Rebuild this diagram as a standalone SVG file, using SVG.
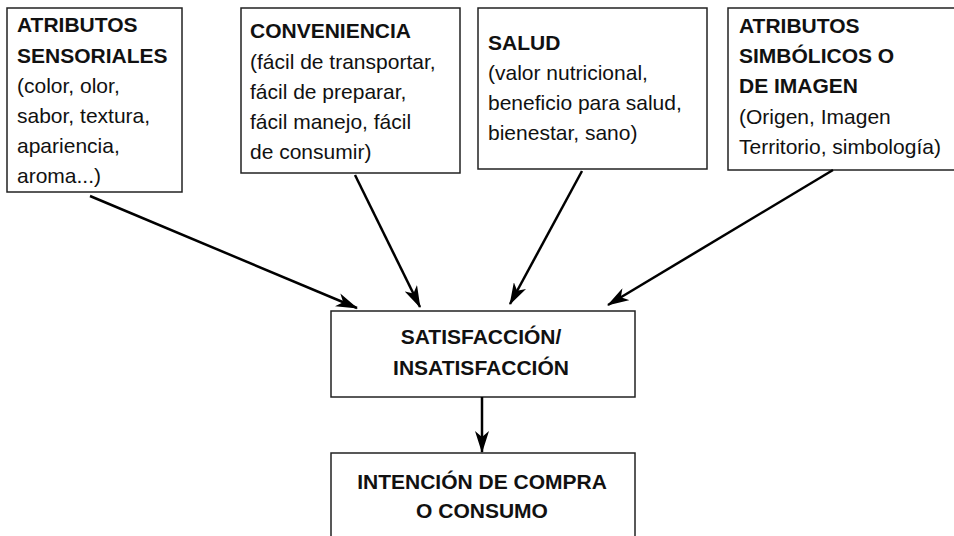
<svg xmlns="http://www.w3.org/2000/svg" width="954" height="536" viewBox="0 0 954 536">
<defs>
<marker id="ah" viewBox="0 0 22 14" refX="21" refY="7" markerWidth="22" markerHeight="14" markerUnits="userSpaceOnUse" orient="auto">
<path d="M0,0 L22,7 L0,14 L6,7 Z" fill="#000"/>
</marker>
</defs>
<style>
.box{fill:#fff;stroke:#222;stroke-width:1.5}
text{font-family:"Liberation Sans",Arial,sans-serif;font-size:21px;fill:#111}
.b{font-weight:bold}
.c{text-anchor:middle}
.con{stroke:#000;stroke-width:2.5;fill:none;marker-end:url(#ah)}
</style>
<rect width="954" height="536" fill="#fff"/>
<g id="n1">
<rect class="box" x="7" y="8" width="175" height="184"/>
<text x="17" y="32" class="b">ATRIBUTOS</text>
<text x="17" y="63" class="b">SENSORIALES</text>
<text x="17" y="93">(color, olor,</text>
<text x="17" y="123">sabor, textura,</text>
<text x="17" y="153">apariencia,</text>
<text x="17" y="183">aroma...)</text>
</g>
<g id="n2">
<rect class="box" x="241" y="8" width="219" height="165"/>
<text x="250" y="38" class="b">CONVENIENCIA</text>
<text x="250" y="69">(fácil de transportar,</text>
<text x="250" y="99">fácil de preparar,</text>
<text x="250" y="129">fácil manejo, fácil</text>
<text x="250" y="159">de consumir)</text>
</g>
<g id="n3">
<rect class="box" x="478" y="8" width="229" height="161"/>
<text x="488" y="50" class="b">SALUD</text>
<text x="488" y="80">(valor nutricional,</text>
<text x="488" y="110">beneficio para salud,</text>
<text x="488" y="140">bienestar, sano)</text>
</g>
<g id="n4">
<rect class="box" x="728" y="8" width="240" height="162"/>
<text x="739" y="33" class="b">ATRIBUTOS</text>
<text x="739" y="63" class="b">SIMBÓLICOS O</text>
<text x="739" y="93" class="b">DE IMAGEN</text>
<text x="739" y="124">(Origen, Imagen</text>
<text x="739" y="154">Territorio, simbología)</text>
</g>
<g id="n5">
<rect class="box" x="331" y="311" width="304" height="86"/>
<text x="481" y="344" class="b c">SATISFACCIÓN/</text>
<text x="481" y="375" class="b c">INSATISFACCIÓN</text>
</g>
<g id="n6">
<rect class="box" x="331" y="453" width="304" height="100"/>
<text x="482" y="489" class="b c">INTENCIÓN DE COMPRA</text>
<text x="482" y="518" class="b c">O CONSUMO</text>
</g>
<g id="connectors">
<line class="con" x1="90" y1="196" x2="357" y2="308"/>
<line class="con" x1="355" y1="175" x2="420" y2="307"/>
<line class="con" x1="582" y1="171" x2="510" y2="304"/>
<line class="con" x1="833" y1="170" x2="608" y2="305"/>
<line class="con" x1="482" y1="397" x2="482" y2="452"/>
</g>
</svg>
